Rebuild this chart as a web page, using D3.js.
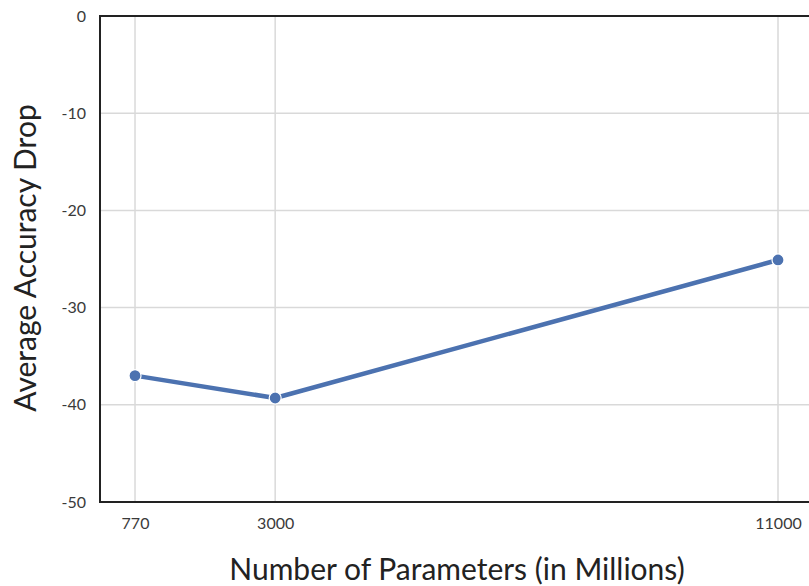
<!DOCTYPE html>
<html><head><meta charset="utf-8">
<script src="https://cdn.jsdelivr.net/npm/d3@7"></script>
<style>body{margin:0;background:#fff;}svg{display:block;}</style>
</head><body>
<script>
const params = [770, 3000, 11000];
const accDrop = [-37, -39.3, -25.1];
const yTicks = [0, -10, -20, -30, -40, -50];
const xTicks = [770, 3000, 11000];

const W = 809, H = 586;
const mLeft = 100, mRight = 810, mTop = 16, mBottom = 502;
const svg = d3.select("body").append("svg").attr("width", W).attr("height", H);
const font = "Lato, 'DejaVu Sans', sans-serif";

const x = d3.scaleLinear().domain([213, 11509]).range([mLeft, mRight]);
const y = d3.scaleLinear().domain([-50, 0]).range([mBottom, mTop]);

// grid
svg.append("g").selectAll("line").data(yTicks).join("line")
  .attr("x1", mLeft).attr("x2", mRight).attr("y1", d => y(d)).attr("y2", d => y(d))
  .attr("stroke", "#d9d9d9").attr("stroke-width", 1.5);
svg.append("g").selectAll("line").data(xTicks).join("line")
  .attr("y1", mTop).attr("y2", mBottom).attr("x1", d => x(d)).attr("x2", d => x(d))
  .attr("stroke", "#d9d9d9").attr("stroke-width", 1.5);

// axes via d3
const yAxis = svg.append("g").attr("transform", `translate(${mLeft},0)`)
  .call(d3.axisLeft(y).tickValues(yTicks).tickSize(0).tickPadding(14).tickFormat(d => String(d)));
yAxis.select(".domain").remove();
yAxis.selectAll("text").attr("font-family", font).attr("font-size", 16).attr("fill", "#3a3a3a");

const xAxis = svg.append("g").attr("transform", `translate(0,${mBottom})`)
  .call(d3.axisBottom(x).tickValues(xTicks).tickSize(0).tickPadding(16).tickFormat(d => String(d)));
xAxis.select(".domain").remove();
xAxis.selectAll("text").attr("font-family", font).attr("font-size", 16).attr("fill", "#3a3a3a");

// spines
svg.append("line").attr("x1", mLeft).attr("x2", mLeft).attr("y1", mTop - 1).attr("y2", mBottom + 1)
  .attr("stroke", "#222").attr("stroke-width", 2);
svg.append("line").attr("x1", mLeft - 1).attr("x2", mRight).attr("y1", mTop).attr("y2", mTop)
  .attr("stroke", "#222").attr("stroke-width", 2);
svg.append("line").attr("x1", mLeft - 1).attr("x2", mRight).attr("y1", mBottom).attr("y2", mBottom)
  .attr("stroke", "#222").attr("stroke-width", 2);

// line
const pts = params.map((p, i) => [p, accDrop[i]]);
svg.append("path").datum(pts)
  .attr("d", d3.line().x(d => x(d[0])).y(d => y(d[1])))
  .attr("fill", "none").attr("stroke", "#4c72b0").attr("stroke-width", 4.5)
  .attr("stroke-linejoin", "round");
svg.append("g").selectAll("circle").data(pts).join("circle")
  .attr("cx", d => x(d[0])).attr("cy", d => y(d[1])).attr("r", 6)
  .attr("fill", "#4c72b0").attr("stroke", "#fff").attr("stroke-width", 1.2);

// labels
svg.append("text").attr("x", 457).attr("y", 580)
  .attr("text-anchor", "middle").attr("font-family", font).attr("font-size", 30).attr("fill", "#222")
  .text("Number of Parameters (in Millions)");
svg.append("text").attr("transform", `translate(36,258) rotate(-90)`)
  .attr("text-anchor", "middle").attr("font-family", font).attr("font-size", 30).attr("fill", "#222")
  .text("Average Accuracy Drop");
</script>
</body></html>
